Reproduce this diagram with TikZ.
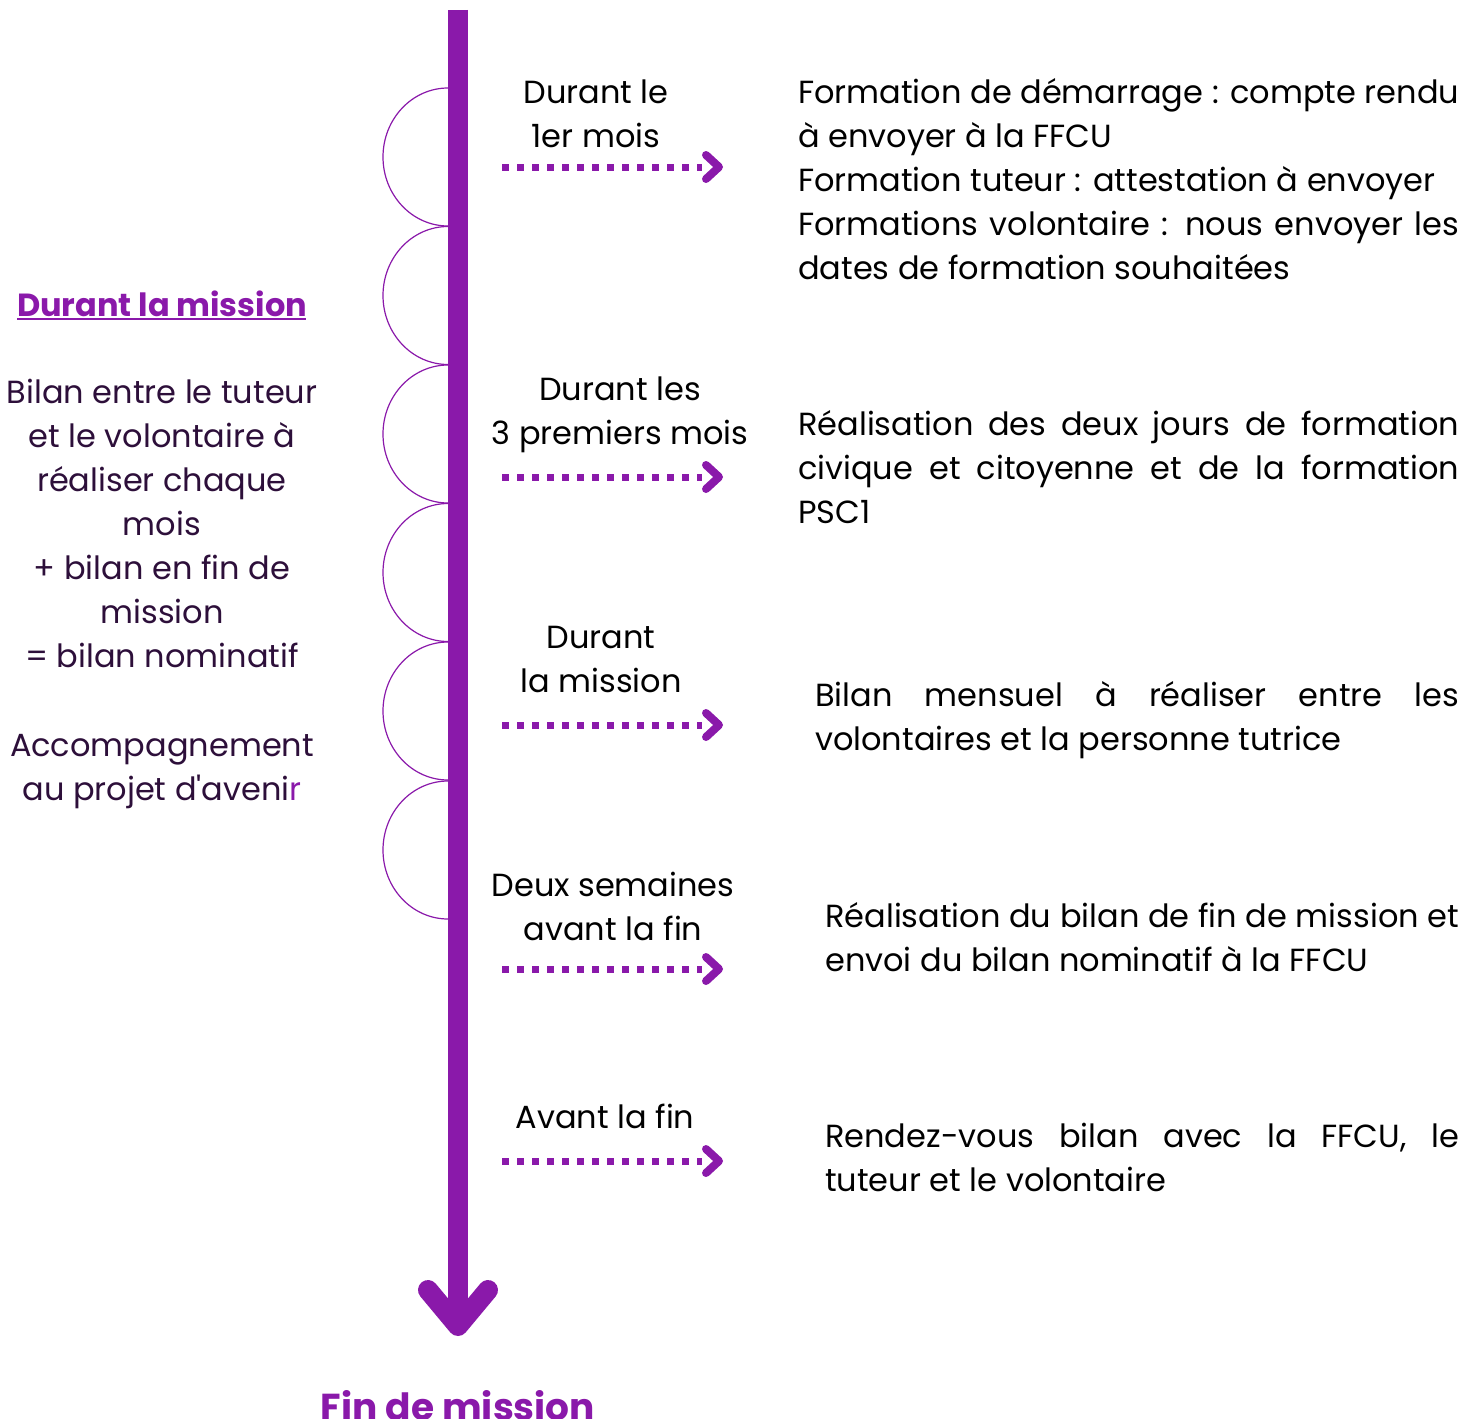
\documentclass[tikz,border=0pt]{standalone}
\usepackage{fontspec}
\setmainfont{Poppins}
\definecolor{mainpurple}{RGB}{138,25,170}
\definecolor{darkpurple}{RGB}{45,15,58}
\newcommand{\rtxt}[2]{\parbox[t]{#1}{\fontsize{32}{44}\selectfont\parindent=0pt\hyphenpenalty=10000\exhyphenpenalty=10000 #2}}
\begin{document}
\begin{tikzpicture}[x=1pt,y=-1pt,
  txt/.style={inner sep=0pt, font=\fontsize{32}{44}\selectfont},
  lbl/.style={txt, anchor=base, align=center},
  dotline/.style={mainpurple, line width=7pt, dash pattern=on 7pt off 8pt},
  chev/.style={mainpurple, line width=8pt, line cap=round, line join=round},
  halfring/.style={mainpurple, line width=1.2pt}
]
\useasboundingbox (0,0) rectangle (1479,1418);
% main timeline
\coordinate (top) at (458,10);
\coordinate (tip) at (458,1326);
\coordinate (hl) at (428,1290);
\coordinate (hr) at (488,1290);
\draw[mainpurple, line width=20pt] (top) -- ([yshift=-2pt]tip);
\draw[mainpurple, line width=20pt, line cap=round, line join=round] (hl) -- (tip) -- (hr);
% half rings
\foreach \c in {157,295.5,434,572.5,711,850}{
  \draw[halfring] (448,\c+69) arc[start angle=90, end angle=270, x radius=65, y radius=69];
}
% dotted arrows
\foreach \y/\n in {167/a,477/b,725/c,969/d,1161/e}{
  \coordinate (s\n) at (502,\y);
  \coordinate (t\n) at (702,\y);
  \draw[dotline] (s\n) -- (t\n);
  \draw[chev] (706,\y-12) -- (719,\y) -- (706,\y+12);
}
% labels above arrows (anchor = baseline of last line)
\node[lbl] (l1) at (596,147) {Durant le\\1er mois};
\node[lbl] (l2) at (620,444) {Durant les\\3 premiers mois};
\node[lbl] (l3) at (601,692) {Durant\\la mission};
\node[lbl] (l4) at (613,940) {Deux semaines\\avant la fin};
\node[lbl] (l5) at (605,1128) {Avant la fin};
% right texts
\node[txt, anchor=base west] (r1) at (798,103) {\rtxt{661pt}{%
Formation de démarrage : compte rendu à envoyer à la FFCU\par
Formation tuteur : attestation à envoyer\par
Formations volontaire : nous envoyer les dates de formation souhaitées}};
\node[txt, anchor=base west] (r2) at (798,435) {\rtxt{661pt}{%
Réalisation des deux jours de formation civique et citoyenne et de la formation PSC1}};
\node[txt, anchor=base west] (r3) at (815,706) {\rtxt{644pt}{%
Bilan mensuel à réaliser entre les volontaires et la personne tutrice}};
\node[txt, anchor=base west] (r4) at (825,927) {\rtxt{634pt}{%
Réalisation du bilan de fin de mission et envoi du bilan nominatif à la FFCU}};
\node[txt, anchor=base west] (r5) at (825,1147) {\rtxt{634pt}{%
Rendez-vous bilan avec la FFCU, le tuteur et le volontaire}};
% left text
\node[txt, anchor=base, font=\fontsize{32}{44}\selectfont\bfseries, text=mainpurple] (lt) at (162,316) {Durant la mission};
\draw[mainpurple, line width=2.5pt] (17,319) -- (306,319);
\node[lbl, text=darkpurple] (lb) at (162,667) {Bilan entre le tuteur\\et le volontaire à\\réaliser chaque\\mois\\+ bilan en fin de\\mission\\= bilan nominatif};
\node[lbl, text=darkpurple] (la) at (162,800) {Accompagnement\\au projet d\textquotesingle aveni\textcolor{mainpurple}{r}};
% bottom
\node[inner sep=0pt, anchor=base, font=\fontsize{37.5}{44}\selectfont\bfseries, text=mainpurple] (fin) at (458,1420) {Fin de mission};
\end{tikzpicture}
\end{document}
